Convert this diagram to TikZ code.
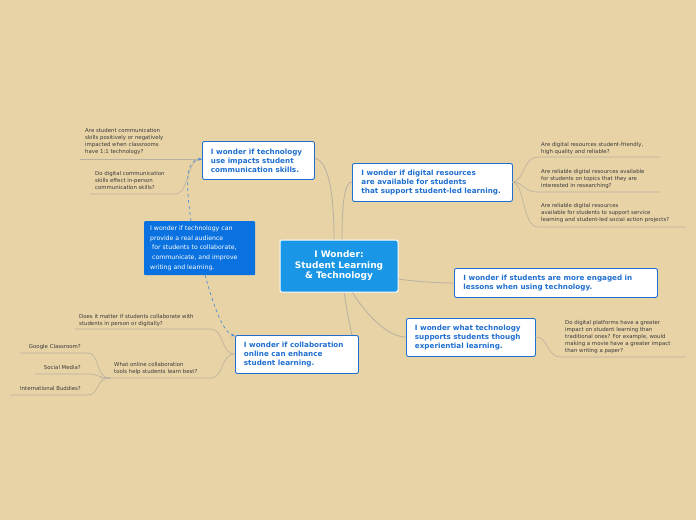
\documentclass[tikz,border=0pt]{standalone}
\usepackage{fontspec}
\setmainfont{DejaVu Sans}
\usetikzlibrary{arrows.meta}
\definecolor{bg}{HTML}{E8D3A6}
\definecolor{tblue}{HTML}{1F6FD0}
\definecolor{cblue}{HTML}{1A96E6}
\definecolor{fblue}{HTML}{0A72E0}
\definecolor{lgray}{HTML}{B8B0A0}
\definecolor{ltxt}{HTML}{3A3A3A}
\tikzset{
 main/.style={draw=tblue,line width=0.9pt,fill=white,rounded corners=2pt,text=tblue,font=\bfseries\fontsize{7.2}{9}\selectfont,align=left,inner sep=0pt,anchor=north west},
 leaf/.style={text=ltxt,font=\fontsize{5.4}{7}\selectfont,align=left,inner sep=0pt,anchor=north west},
 lk/.style={draw=lgray,line width=0.8pt},
 br/.style={draw=lgray,line width=0.6pt},
}
\begin{document}
\begin{tikzpicture}[x=1pt,y=-1pt]
\fill[bg] (0,0) rectangle (696,520);
\useasboundingbox (0,0) rectangle (696,520);
% center links
\draw[lk] (334,240) .. controls (334,200) and (330,160) .. (314,158);
\draw[lk] (342,240) .. controls (342,200) and (345,182) .. (352,182);
\draw[lk] (398,279) .. controls (420,282) and (440,283) .. (454,283);
\draw[lk] (352,292) .. controls (370,320) and (390,337) .. (406,337);
\draw[lk] (344,292) .. controls (350,330) and (355,350) .. (358,354);
% boxes
\node[draw=white,line width=1pt,fill=cblue,rounded corners=2pt,minimum width=118pt,minimum height=52pt,text=white,font=\bfseries\fontsize{9}{10.5}\selectfont,align=center] (ctr) at (339,266) {I Wonder:\\Student Learning\\\& Technology};
\node[main,minimum width=112pt,minimum height=38pt] (A) at (202,141) {\hspace*{7pt}\begin{minipage}{102pt}I wonder if technology\\use impacts student\\communication skills.\end{minipage}};
\node[main,minimum width=160pt,minimum height=38pt] (B) at (352,163) {\hspace*{8pt}\begin{minipage}{150pt}I wonder if digital resources\\are available for students\\that support student-led learning.\end{minipage}};
\node[main,minimum width=203pt,minimum height=29pt] (C) at (454,268) {\hspace*{8pt}\begin{minipage}{193pt}I wonder if students are more engaged in\\lessons when using technology.\end{minipage}};
\node[main,minimum width=129pt,minimum height=38pt] (D) at (406,318) {\hspace*{8pt}\begin{minipage}{120pt}I wonder what technology\\supports students though\\experiential learning.\end{minipage}};
\node[main,minimum width=123pt,minimum height=38pt] (E) at (235,335) {\hspace*{8pt}\begin{minipage}{114pt}I wonder if collaboration\\online can enhance\\student learning.\end{minipage}};
\node[fill=fblue,rounded corners=1pt,minimum width=111pt,minimum height=54pt,text=white,font=\fontsize{6.2}{9.8}\selectfont,align=left,inner sep=0pt,anchor=north west] (F) at (144,221) {\hspace*{5pt}\begin{minipage}{104pt}I wonder if technology can\\provide a real audience\\\hspace*{2pt}for students to collaborate,\\\hspace*{2pt}communicate, and improve\\writing and learning.\end{minipage}};
% A leaves
\node[leaf] (a1) at (85,128) {Are student communication\\skills positively or negatively\\impacted when classrooms\\have 1:1 technology?};
\node[leaf] (a2) at (95,171) {Do digital communication\\skills effect in-person\\communication skills?};
\draw[br] (80,159) -- (202,159);
\draw[br] (90,194) -- (175,194) .. controls (190,194) and (185,159) .. (202,159);
% B leaves
\node[leaf] (b1) at (541,142) {Are digital resources student-friendly,\\high quality and reliable?};
\node[leaf] (b2) at (541,169) {Are reliable digital resources available\\for students on topics that they are\\interested in researching?};
\node[leaf] (b3) at (541,203) {Are reliable digital resources\\available for students to support service\\learning and student-led social action projects?};
\draw[br] (512,182) .. controls (525,182) and (522,157) .. (538,157) -- (660,157);
\draw[br] (512,182) .. controls (525,182) and (522,192) .. (538,192) -- (660,192);
\draw[br] (512,182) .. controls (525,182) and (522,227) .. (538,227) -- (686,227);
% D leaf
\node[leaf] (d1) at (565,320) {Do digital platforms have a greater\\impact on student learning than\\traditional ones? For example, would\\making a movie have a greater impact\\than writing a paper?};
\draw[br] (535,337) .. controls (550,337) and (545,357) .. (562,357) -- (686,357);
% E leaves
\node[leaf] (e1) at (79,314) {Does it matter if students collaborate with\\students in person or digitally?};
\node[leaf] (e2) at (114,362) {What online collaboration\\tools help students learn best?};
\draw[br] (75,329) -- (210,329) .. controls (225,329) and (220,354) .. (235,354);
\draw[br] (100,378) -- (210,378) .. controls (225,378) and (220,354) .. (235,354);
\node[leaf,anchor=north east] (g1) at (81,344) {Google Classroom?};
\node[leaf,anchor=north east] (g2) at (81,365) {Social Media?};
\node[leaf,anchor=north east] (g3) at (81,386) {International Buddies?};
\draw[br] (20,353) -- (88,353) .. controls (100,353) and (95,378) .. (110,378);
\draw[br] (35,374) -- (88,374) .. controls (98,374) and (98,378) .. (110,378);
\draw[br] (10,395) -- (88,395) .. controls (100,395) and (95,378) .. (110,378);
% dashed arrows
\draw[tblue!80,dashed,line width=0.7pt,-{Stealth[length=4pt]}] (F.north west)++(47,0) .. controls (186,185) and (185,160) .. (A.west|-0,159);
\draw[tblue!80,dashed,line width=0.7pt,-{Stealth[length=4pt]}] (205,275) .. controls (212,300) and (222,332) .. (235,336);
\end{tikzpicture}
\end{document}
